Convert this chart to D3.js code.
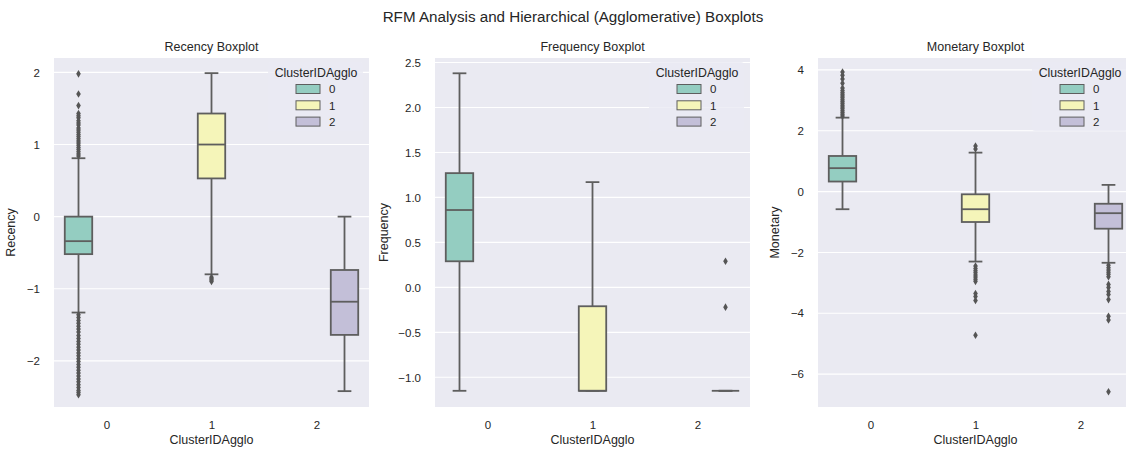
<!DOCTYPE html>
<html>
<head>
<meta charset="utf-8">
<script src="https://cdn.jsdelivr.net/npm/d3@7"></script>
<style>
  html, body { margin: 0; padding: 0; background: #ffffff; }
  svg text { font-family: "Liberation Sans", Arial, sans-serif; fill: #262626; }
</style>
</head>
<body>
<svg id="chart" width="1126" height="450"></svg>
<script>
// Cluster labels (x categories and hue levels)
const clusters = ["0", "1", "2"];
const clusterColors = ["#94cdc1", "#f5f5b9", "#c3bfd8"];

// Five-number summaries per cluster: [lower whisker, Q1, median, Q3, upper whisker]
const recencyBoxes = [
  [-1.33, -0.52, -0.34, 0.00, 0.81],
  [-0.80, 0.53, 1.00, 1.43, 1.99],
  [-2.42, -1.64, -1.18, -0.74, 0.00]
];
const frequencyBoxes = [
  [-1.15, 0.29, 0.86, 1.27, 2.38],
  [-1.15, -1.15, -1.15, -0.21, 1.17],
  [-1.15, -1.15, -1.15, -1.15, -1.15]
];
const monetaryBoxes = [
  [-0.58, 0.33, 0.77, 1.17, 2.43],
  [-2.30, -1.00, -0.58, -0.09, 1.28],
  [-2.34, -1.22, -0.71, -0.40, 0.22]
];

// Outliers per cluster
const recencyOutliers = [
  [0.84, 0.87, 0.90, 0.93, 0.96, 0.99, 1.02, 1.05, 1.08, 1.11, 1.14, 1.17, 1.20, 1.23, 1.27, 1.30, 1.33, 1.37, 1.40, 1.43, 1.54, 1.70, 1.98,
   -1.36, -1.40, -1.44, -1.48, -1.52, -1.56, -1.60, -1.65, -1.69, -1.73, -1.77, -1.81, -1.85, -1.89, -1.93, -1.97, -2.01, -2.05, -2.09, -2.13, -2.17, -2.21, -2.25, -2.29, -2.33, -2.37, -2.41, -2.44, -2.47],
  [-0.84, -0.86, -0.88, -0.90],
  []
];
const frequencyOutliers = [
  [],
  [],
  [0.29, -0.22]
];
const monetaryOutliers = [
  [2.48, 2.54, 2.60, 2.66, 2.72, 2.78, 2.84, 2.90, 2.96, 3.02, 3.08, 3.14, 3.20, 3.26, 3.32, 3.40, 3.56, 3.70, 3.82, 3.93],
  [1.40, 1.50, -2.45, -2.53, -2.60, -2.67, -2.74, -2.81, -2.88, -2.95, -3.35, -3.45, -3.58, -4.72],
  [-2.42, -2.50, -2.58, -2.65, -2.72, -2.80, -3.05, -3.15, -3.28, -3.38, -3.55, -4.10, -4.22, -6.58]
];

// Axis ticks
const recencyTicks = [2, 1, 0, -1, -2];
const frequencyTicks = [2.5, 2.0, 1.5, 1.0, 0.5, 0.0, -0.5, -1.0];
const monetaryTicks = [4, 2, 0, -2, -4, -6];

const panels = [
  { title: "Recency Boxplot", ylabel: "Recency", boxes: recencyBoxes, outliers: recencyOutliers,
    ticks: recencyTicks, fmt: d3.format("d"), domain: [-2.64, 2.2], left: 54, ylabOff: 39 },
  { title: "Frequency Boxplot", ylabel: "Frequency", boxes: frequencyBoxes, outliers: frequencyOutliers,
    ticks: frequencyTicks, fmt: d3.format(".1f"), domain: [-1.33, 2.55], left: 435, ylabOff: 47 },
  { title: "Monetary Boxplot", ylabel: "Monetary", boxes: monetaryBoxes, outliers: monetaryOutliers,
    ticks: monetaryTicks, fmt: d3.format("d"), domain: [-7.08, 4.39], left: 818, ylabOff: 39 }
];

const svg = d3.select("#chart");
const panelW = 315, plotTop = 58, plotBottom = 407;
const lineColor = "#5e5e5e";
const lineW = 1.8;
const bg = "#eaeaf2";
const hueWidth = 0.8 / clusters.length;
const boxWidth = hueWidth * 0.98;

svg.append("text")
  .attr("x", 573).attr("y", 22)
  .attr("text-anchor", "middle")
  .style("font-size", "15.2px")
  .text("RFM Analysis and Hierarchical (Agglomerative) Boxplots");

const defs = svg.append("defs");

panels.forEach((p, pi) => {
  const x = d3.scaleLinear().domain([-0.5, 2.5]).range([p.left, p.left + panelW]);
  const y = d3.scaleLinear().domain(p.domain).range([plotBottom, plotTop]);
  const g = svg.append("g");

  defs.append("clipPath").attr("id", "clip" + pi)
    .append("rect").attr("x", p.left).attr("y", plotTop)
    .attr("width", panelW).attr("height", plotBottom - plotTop);

  g.append("rect")
    .attr("x", p.left).attr("y", plotTop)
    .attr("width", panelW).attr("height", plotBottom - plotTop)
    .attr("fill", bg);

  // horizontal grid
  g.append("g").selectAll("line").data(p.ticks).join("line")
    .attr("x1", p.left).attr("x2", p.left + panelW)
    .attr("y1", d => y(d)).attr("y2", d => y(d))
    .attr("stroke", "#ffffff").attr("stroke-width", 1.1);

  // y axis labels
  const yAxis = d3.axisLeft(y).tickValues(p.ticks).tickFormat(p.fmt).tickSize(0).tickPadding(14);
  const ya = g.append("g").attr("transform", `translate(${p.left},0)`).call(yAxis);
  ya.select(".domain").remove();
  ya.selectAll("text").style("font-size", "11.5px").attr("fill", "#262626");

  // x axis labels
  const xAxis = d3.axisBottom(x).tickValues([0, 1, 2]).tickFormat(i => clusters[i]).tickSize(0).tickPadding(14);
  const xa = g.append("g").attr("transform", `translate(0,${plotBottom})`).call(xAxis);
  xa.select(".domain").remove();
  xa.selectAll("text").style("font-size", "11.5px").attr("fill", "#262626");

  g.append("text")
    .attr("x", p.left + panelW / 2).attr("y", 444)
    .attr("text-anchor", "middle").style("font-size", "12.5px")
    .text("ClusterIDAgglo");

  g.append("text")
    .attr("transform", `translate(${p.left - p.ylabOff},${(plotTop + plotBottom) / 2}) rotate(-90)`)
    .attr("text-anchor", "middle").style("font-size", "12.5px")
    .text(p.ylabel);

  g.append("text")
    .attr("x", p.left + panelW / 2).attr("y", 51)
    .attr("text-anchor", "middle").style("font-size", "12.5px")
    .text(p.title);

  const plot = g.append("g").attr("clip-path", `url(#clip${pi})`);

  p.boxes.forEach((b, i) => {
    const cx = x(i + (i - 1) * hueWidth);
    const hw = (x(boxWidth) - x(0)) / 2;
    const [lo, q1, med, q3, hi] = b;
    // whiskers
    plot.append("line").attr("x1", cx).attr("x2", cx).attr("y1", y(q3)).attr("y2", y(hi))
      .attr("stroke", lineColor).attr("stroke-width", lineW);
    plot.append("line").attr("x1", cx).attr("x2", cx).attr("y1", y(q1)).attr("y2", y(lo))
      .attr("stroke", lineColor).attr("stroke-width", lineW);
    // caps
    [lo, hi].forEach(v => {
      plot.append("line").attr("x1", cx - hw / 2).attr("x2", cx + hw / 2).attr("y1", y(v)).attr("y2", y(v))
        .attr("stroke", lineColor).attr("stroke-width", lineW);
    });
    // box
    plot.append("rect")
      .attr("x", cx - hw).attr("width", hw * 2)
      .attr("y", y(q3)).attr("height", Math.max(0, y(q1) - y(q3)))
      .attr("fill", clusterColors[i]).attr("stroke", lineColor).attr("stroke-width", lineW);
    // median
    plot.append("line").attr("x1", cx - hw).attr("x2", cx + hw).attr("y1", y(med)).attr("y2", y(med))
      .attr("stroke", lineColor).attr("stroke-width", lineW);
    // outliers
    plot.append("g").selectAll("path").data(p.outliers[i]).join("path")
      .attr("transform", d => `translate(${cx},${y(d)})`)
      .attr("d", "M0,-3.8L2.3,0L0,3.8L-2.3,0Z")
      .attr("fill", "#555555");
  });

  // legend
  const right = p.left + panelW;
  const lg = g.append("g");
  lg.append("rect")
    .attr("x", right - 101).attr("y", 62).attr("width", 95).attr("height", 69).attr("rx", 3)
    .attr("fill", bg).attr("fill-opacity", 0.8);
  lg.append("text")
    .attr("x", right - 53).attr("y", 76.5).attr("text-anchor", "middle")
    .style("font-size", "12.3px").text("ClusterIDAgglo");
  clusters.forEach((c, i) => {
    const ry = 89 + i * 16.3;
    lg.append("rect").attr("x", right - 73).attr("y", ry - 4.5).attr("width", 24).attr("height", 9)
      .attr("fill", clusterColors[i]).attr("stroke", lineColor).attr("stroke-width", 1);
    lg.append("text").attr("x", right - 40).attr("y", ry + 4.3)
      .style("font-size", "11.5px").text(c);
  });
});
</script>
</body>
</html>
